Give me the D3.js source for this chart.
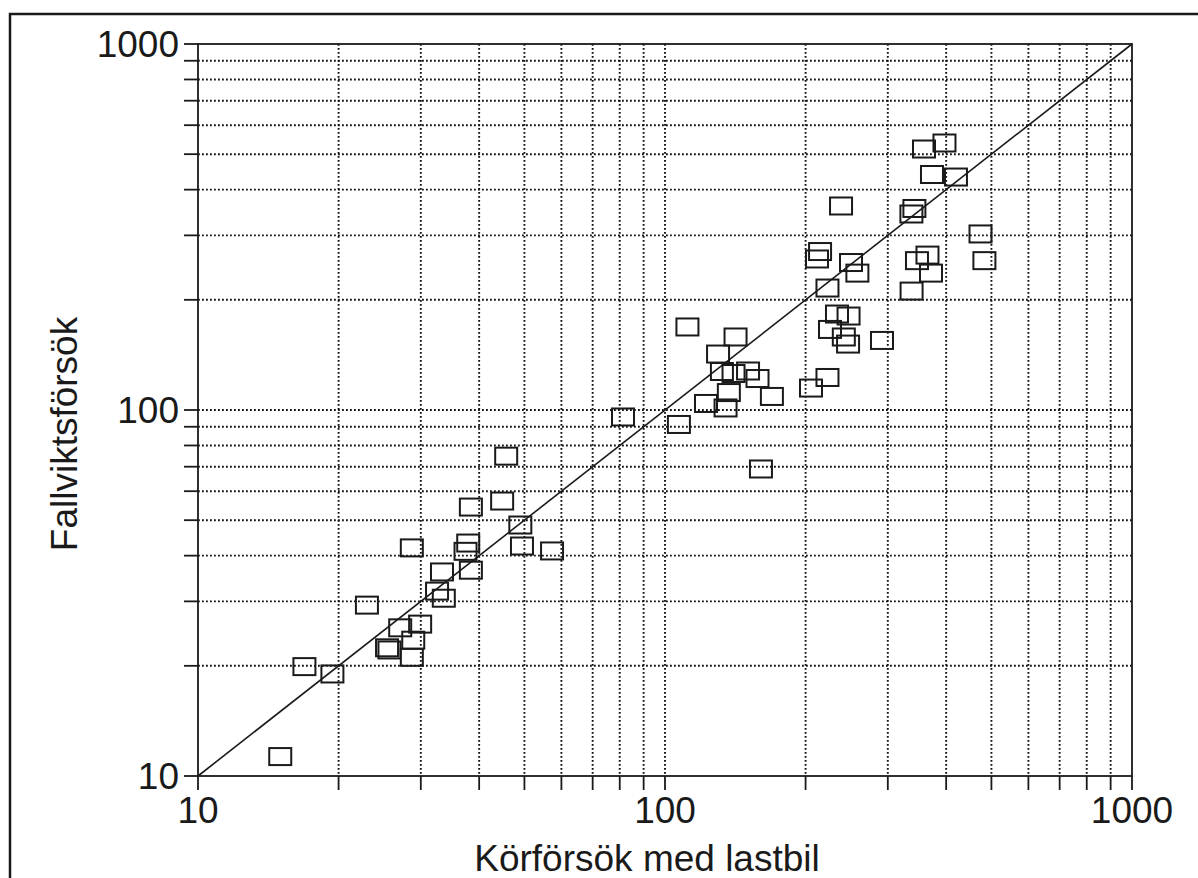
<!DOCTYPE html>
<html>
<head>
<meta charset="utf-8">
<script src="https://cdn.jsdelivr.net/npm/d3@7"></script>
<style>
  html, body { margin: 0; padding: 0; background: #fff; }
  svg { display: block; font-family: "Liberation Sans", Arial, sans-serif; }
</style>
</head>
<body>
<div id="chart"></div>
<script>
// Körförsök med lastbil (x) vs Fallviktsförsök (y), log-log, one square per test section.
const truckX = [
  15.0, 16.9, 19.4, 23.0, 25.4, 25.7, 27.1, 28.9, 28.7, 29.9,
  28.7, 33.3, 32.5, 33.6, 37.9, 37.4, 38.4, 38.4, 44.8, 45.7,
  49.0, 49.4, 57.3, 81.3,
  111.7, 141.6, 129.9, 132.4, 140.2, 150.6, 157.8, 137.0, 122.4, 134.8,
  169.4, 107.1, 160.5, 205.4, 222.8, 233.5, 247.2, 225.6, 241.5, 246.6, 291.5,
  358.6, 396.7, 373.0, 419.8, 238.2, 342.0, 337.0, 473.8, 483.0, 214.8,
  211.6, 250.2, 258.2, 222.8, 346.4, 364.8, 371.2, 337.3,
];
const fallY = [
  11.3, 19.9, 19.0, 29.3, 22.4, 22.1, 25.4, 23.5, 21.1, 26.0,
  42.0, 36.1, 32.0, 30.6, 43.3, 41.1, 36.5, 54.3, 56.4, 74.8,
  48.5, 42.5, 41.2, 95.7,
  168.6, 158.3, 142.2, 127.4, 125.8, 127.8, 121.9, 111.6, 104.2, 101.3,
  108.9, 91.3, 69.0, 114.8, 122.7, 182.9, 180.6, 166.0, 158.3, 151.4, 154.9,
  516.5, 536.4, 440.0, 433.0, 360.9, 355.3, 343.2, 302.7, 255.9, 271.0,
  258.6, 252.9, 236.6, 215.4, 255.9, 265.0, 236.6, 211.3,
];
const labelTicks = [10, 100, 1000];
const minorSteps = [1, 2, 3, 4, 5, 6, 7, 8, 9];
const decades = [10, 100];
const xTitle = 'Körförsök med lastbil';
const yTitle = 'Fallviktsförsök';

const W = 1198, H = 878;
const plot = { left: 198, right: 1132, top: 44, bottom: 776 };
const INK = '#1a1a1a';

const svg = d3.select('#chart').append('svg')
  .attr('width', W).attr('height', H)
  .attr('viewBox', `0 0 ${W} ${H}`);

// scanned page edge: left + top rule only
svg.append('path')
  .attr('d', `M10,${H} V14 H${W}`)
  .attr('fill', 'none').attr('stroke', INK).attr('stroke-width', 2.5);

const x = d3.scaleLog().domain([10, 1000]).range([plot.left, plot.right]);
const y = d3.scaleLog().domain([10, 1000]).range([plot.bottom, plot.top]);

const allTicks = decades.flatMap((d) => minorSteps.map((k) => k * d)).concat([1000]);
const gridTicks = allTicks.filter((v) => v > 10 && v < 1000);

// dotted grid
const grid = svg.append('g')
  .attr('stroke', '#111').attr('stroke-width', 1.9)
  .attr('stroke-dasharray', '1.8,2.2');
grid.selectAll('line.v').data(gridTicks).join('line').attr('class', 'v')
  .attr('x1', (d) => x(d)).attr('x2', (d) => x(d))
  .attr('y1', plot.top).attr('y2', plot.bottom);
grid.selectAll('line.h').data(gridTicks).join('line').attr('class', 'h')
  .attr('y1', (d) => y(d)).attr('y2', (d) => y(d))
  .attr('x1', plot.left).attr('x2', plot.right);

// 1:1 line
svg.append('line')
  .attr('x1', x(10)).attr('y1', y(10)).attr('x2', x(1000)).attr('y2', y(1000))
  .attr('stroke', INK).attr('stroke-width', 1.6);

// plot frame
svg.append('rect')
  .attr('x', plot.left).attr('y', plot.top)
  .attr('width', plot.right - plot.left).attr('height', plot.bottom - plot.top)
  .attr('fill', 'none').attr('stroke', INK).attr('stroke-width', 1.8);

// outward ticks
const ticks = svg.append('g').attr('stroke', INK).attr('stroke-width', 1.8);
ticks.selectAll('line.xt').data(allTicks).join('line').attr('class', 'xt')
  .attr('x1', (d) => x(d)).attr('x2', (d) => x(d))
  .attr('y1', plot.bottom).attr('y2', plot.bottom + 14);
ticks.selectAll('line.yt').data(allTicks).join('line').attr('class', 'yt')
  .attr('y1', (d) => y(d)).attr('y2', (d) => y(d))
  .attr('x1', plot.left - 14).attr('x2', plot.left);

const fmt = d3.format('d');
const labels = svg.append('g').attr('fill', INK).style('font-size', '37px');
labels.selectAll('text.xl').data(labelTicks).join('text').attr('class', 'xl')
  .attr('x', (d) => x(d)).attr('y', 823).attr('text-anchor', 'middle')
  .text(fmt);
labels.selectAll('text.yl').data(labelTicks).join('text').attr('class', 'yl')
  .attr('x', 179).attr('y', (d) => y(d)).attr('dy', '0.36em').attr('text-anchor', 'end')
  .text(fmt);

labels.append('text')
  .attr('x', 647).attr('y', 871).attr('text-anchor', 'middle')
  .text(xTitle);
labels.append('text')
  .attr('transform', 'translate(77,434) rotate(-90)')
  .attr('text-anchor', 'middle')
  .text(yTitle);

// hollow square markers
const pts = d3.zip(truckX, fallY);
svg.append('g').selectAll('rect').data(pts).join('rect')
  .attr('x', (d) => x(d[0]) - 11).attr('y', (d) => y(d[1]) - 8.5)
  .attr('width', 22).attr('height', 17)
  .attr('fill', 'none').attr('stroke', INK).attr('stroke-width', 2);
</script>
</body>
</html>
